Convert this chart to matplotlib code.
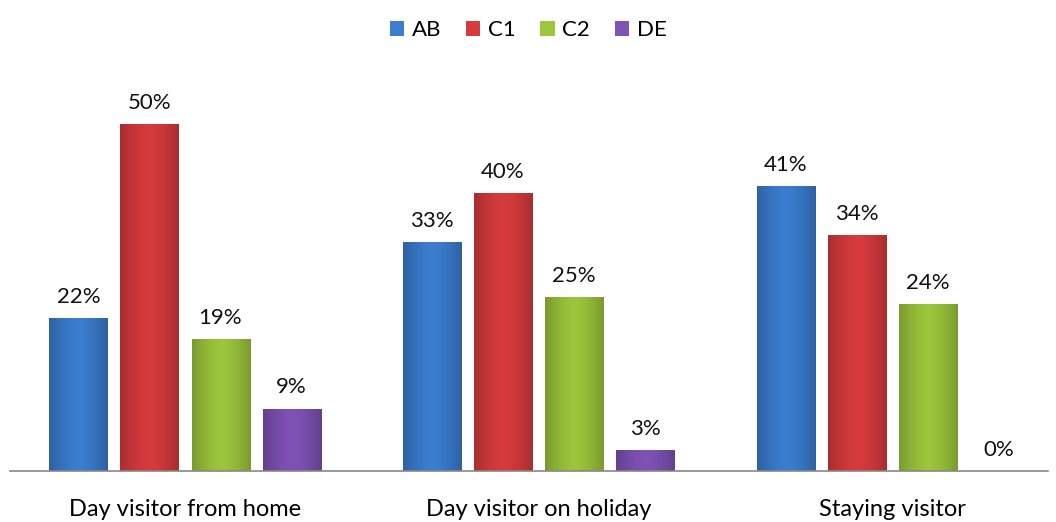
import numpy as np
import matplotlib.pyplot as plt
from matplotlib.colors import to_rgb

plt.rcParams['font.family'] = ['Lato', 'DejaVu Sans']

# =========================================================
# DATA
# =========================================================

categories = ["Day visitor from home", "Day visitor on holiday", "Staying visitor"]
series = ["AB", "C1", "C2", "DE"]
ab = [22, 33, 41]
c1 = [50, 40, 34]
c2 = [19, 25, 24]
de = [9, 3, 0]
values = [ab, c1, c2, de]

colors = ["#3b7dd0", "#d63b3d", "#9cc63c", "#7f52b6"]


# =========================================================
# PLOTTING
# =========================================================

def shade_bar(ax, bar, color):
    """Horizontal light/dark shading clipped to the bar, for the bevel look."""
    x0, y0 = bar.get_x(), bar.get_y()
    w, h = bar.get_width(), bar.get_height()
    if h <= 0:
        return
    base = np.array(to_rgb(color))
    t = np.linspace(0, 1, 64)
    prof = 1.0 - 0.22 * np.abs(t - 0.5) ** 1.5 * 2.8
    prof = np.clip(prof, 0.65, 1.05)
    img = np.clip(base[None, None, :] * prof[None, :, None], 0, 1)
    im = ax.imshow(img, extent=(x0, x0 + w, y0, y0 + h), aspect="auto",
                   zorder=3, interpolation="bilinear")
    im.set_clip_path(bar)


fig = plt.figure(figsize=(10.56, 5.22), dpi=100)
ax = fig.add_axes([10 / 1056, 51 / 522, 1038 / 1056, 431 / 522])

x = np.arange(len(categories))
step = 71 / 353.5
width = 58 / 353.5
offsets = (np.arange(len(series)) - 1.5) * step

for i, (name, vals, col) in enumerate(zip(series, values, colors)):
    bars = ax.bar(x + offsets[i], vals, width, color=col, label=name,
                  edgecolor="none", zorder=2)
    for b, v in zip(bars, vals):
        shade_bar(ax, b, col)
        ax.text(b.get_x() + b.get_width() / 2, v + 1.6, f"{v}%",
                ha="center", va="bottom", fontsize=16, color="#111111")

ax.set_xlim(-0.495, 2.441)
ax.set_ylim(0, 62.1)

for s in ["top", "right", "left"]:
    ax.spines[s].set_visible(False)
ax.spines["bottom"].set_color("#888888")
ax.spines["bottom"].set_linewidth(1.2)
ax.spines["bottom"].set_zorder(4)
ax.set_yticks([])
ax.set_xticks(x)
ax.set_xticklabels(categories, fontsize=17)
ax.tick_params(axis="x", length=0, pad=20)

fig.legend(loc="upper center", bbox_to_anchor=(0.5, 1.0), ncol=4,
           frameon=False, fontsize=16, handlelength=0.65, handleheight=0.65,
           handletextpad=0.35, columnspacing=1.1)

plt.savefig("out.png", dpi=100)
